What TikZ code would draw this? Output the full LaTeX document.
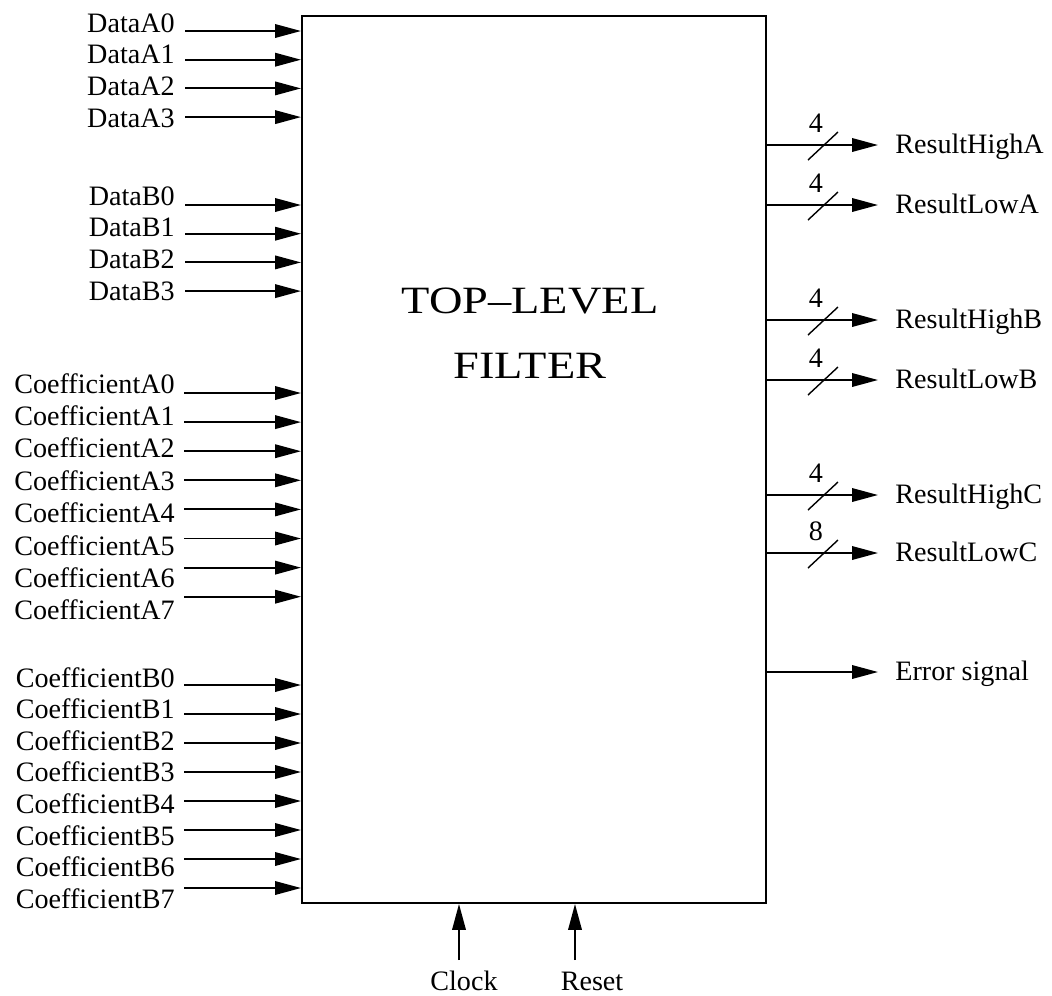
\documentclass[tikz,border=0pt]{standalone}
\usepackage{fontspec}
\setmainfont{Liberation Serif}
\usetikzlibrary{arrows.meta}
\tikzset{
  sig/.style={line width=1.1pt,-{Triangle[length=0.52cm,width=0.27cm]}},
  pin/.style={font=\fontsize{16}{19}\selectfont,inner sep=0pt},
  busmark/.style={line width=0.8pt},
  ttl/.style={font=\fontsize{22}{26}\selectfont,inner sep=0pt,xscale=1.2,anchor=base},
}
\begin{document}
\begin{tikzpicture}[x=0.02cm,y=-0.02cm]
\useasboundingbox (0,0) rectangle (1052,995);
% the filter block
\node[draw,line width=1.2pt,inner sep=0pt,anchor=north west,
      minimum width=9.28cm,minimum height=17.74cm] (filt) at (301,15) {};
\node[ttl] (ttlA) at (530,313) {TOP–LEVEL};
\node[ttl] (ttlB) at (530,378) {FILTER};
% inputs
\foreach \k in {0,...,3} {
  \node[pin,anchor=base east] (dA\k) at (175,32+31.7*\k) {DataA\k};
  \coordinate (dA\k s) at (185,31+28.7*\k);
  \draw[sig] (dA\k s) -- (dA\k s -| filt.west);
  \node[pin,anchor=base east] (dB\k) at (175,205+31.7*\k) {DataB\k};
  \coordinate (dB\k s) at (185,205+28.7*\k);
  \draw[sig] (dB\k s) -- (dB\k s -| filt.west);
}
\foreach \k in {0,...,7} {
  \node[pin,anchor=base east] (cA\k) at (175,393+32.4*\k) {CoefficientA\k};
  \coordinate (cA\k s) at (184,393+29.1*\k);
  \draw[sig] (cA\k s) -- (cA\k s -| filt.west);
  \node[pin,anchor=base east] (cB\k) at (175,687+31.6*\k) {CoefficientB\k};
  \coordinate (cB\k s) at (184,685+29*\k);
  \draw[sig] (cB\k s) -- (cB\k s -| filt.west);
}
% outputs
\foreach \nm/\y/\w [count=\i] in {ResultHighA/145/4,ResultLowA/205/4,
    ResultHighB/320/4,ResultLowB/380/4,ResultHighC/495/4,ResultLowC/553/8} {
  \coordinate (o\i) at (878,\y);
  \draw[sig] (o\i -| filt.east) -- (o\i);
  \draw[busmark] (808,\y+15) -- (838,\y-13);
  \node[pin] (w\i) at (816,\y-22) {\w};
  \node[pin,anchor=base west] (r\i) at (895,\y+8) {\nm};
}
\coordinate (err) at (878,672);
\draw[sig] (err -| filt.east) -- (err);
\node[pin,anchor=base west] (errlbl) at (895,680) {Error signal};
% clock and reset
\coordinate (clk) at (459,960);
\coordinate (rst) at (575,960);
\draw[sig] (clk) -- (clk |- filt.south);
\draw[sig] (rst) -- (rst |- filt.south);
\node[pin,anchor=base] (clklbl) at (464,990) {Clock};
\node[pin,anchor=base] (rstlbl) at (592,990) {Reset};
\end{tikzpicture}
\end{document}
